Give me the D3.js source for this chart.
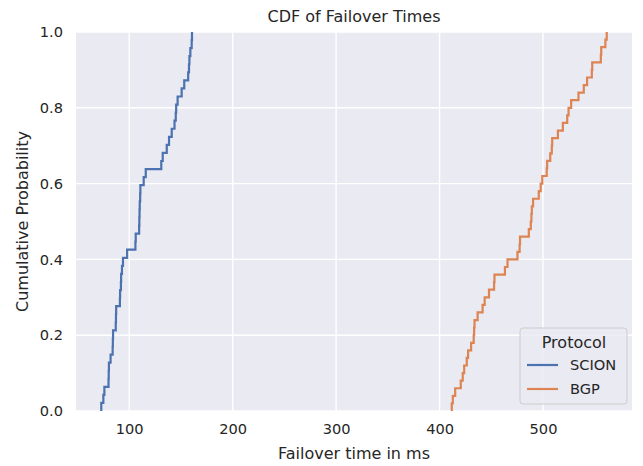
<!DOCTYPE html>
<html>
<head>
<meta charset="utf-8">
<script src="https://cdn.jsdelivr.net/npm/d3@7"></script>
<style>
  body { margin: 0; background: #fff; }
  svg text { font-family: "DejaVu Sans", sans-serif; fill: #262626; }
</style>
</head>
<body>
<svg id="chart" width="643" height="466"></svg>
<script>
// failover samples in ms
const scionTimes = [73, 75, 76, 80, 80.2, 80.4, 82, 84, 84.2, 84.4, 87, 87.2, 87.4,
  91, 91.2, 92, 92.2, 93, 94, 98, 106, 106.3, 109.6, 109.8, 110, 110.2, 110.6, 110.8,
  114, 116, 131, 132.4, 136.3, 138.5, 141.1, 143.8, 145, 145.4, 146.8, 150.7, 153.2,
  157, 157.8, 158.2, 159.1, 160.4, 160.7];
const bgpTimes = [411.8, 412.8, 415.1, 420.5, 422.4, 423.8, 426.3, 427.6, 430.5,
  433.0, 433.4, 433.8, 436.8, 441.6, 443.6, 447.8, 452.7, 453.1, 463.2, 465.7, 475.3,
  477.4, 477.8, 486.3, 488.2, 488.8, 489.2, 490.4, 495.9, 497.8, 499.3, 503.6, 504.0,
  507.0, 508.5, 508.9, 514.4, 519.2, 523.4, 524.7, 527.2, 534.3, 539.4, 542.6,
  547.2, 547.6, 555.9, 556.3, 560.3, 561.6];

const protocols = ["SCION", "BGP"];
const colors = ["#4C72B0", "#DD8452"];
const xTicks = [100, 200, 300, 400, 500];
const yTicks = [0, 0.2, 0.4, 0.6, 0.8, 1.0];

const margin = { top: 32, right: 11, bottom: 55, left: 76 };
const width = 643 - margin.left - margin.right;
const height = 466 - margin.top - margin.bottom;

const svg = d3.select("#chart");
const g = svg.append("g").attr("transform", `translate(${margin.left},${margin.top})`);

const all = scionTimes.concat(bgpTimes);
const lo = d3.min(all), hi = d3.max(all), pad = (hi - lo) * 0.05;
const x = d3.scaleLinear().domain([lo - pad, hi + pad]).range([0, width]);
const y = d3.scaleLinear().domain([0, 1]).range([height, 0]);

g.append("rect").attr("width", width).attr("height", height).attr("fill", "#EAEAF2");

// grid
g.selectAll(".xg").data(xTicks).enter().append("line")
  .attr("x1", d => x(d)).attr("x2", d => x(d)).attr("y1", 0).attr("y2", height)
  .attr("stroke", "#fff").attr("stroke-width", 1.4);
g.selectAll(".yg").data(yTicks).enter().append("line")
  .attr("y1", d => y(d)).attr("y2", d => y(d)).attr("x1", 0).attr("x2", width)
  .attr("stroke", "#fff").attr("stroke-width", 1.4);

// axes
const xAxis = g.append("g").attr("transform", `translate(0,${height})`)
  .call(d3.axisBottom(x).tickValues(xTicks).tickSize(0).tickPadding(13).tickFormat(d3.format("d")));
const yAxis = g.append("g")
  .call(d3.axisLeft(y).tickValues(yTicks).tickSize(0).tickPadding(13).tickFormat(d3.format(".1f")));
[xAxis, yAxis].forEach(a => {
  a.select(".domain").remove();
  a.selectAll("text").style("font-size", "14.6px").attr("fill", "#262626");
});

g.append("clipPath").attr("id", "clip").append("rect")
  .attr("width", width).attr("height", height);

// ecdf steps
const line = d3.line().x(d => x(d[0])).y(d => y(d[1])).curve(d3.curveStepAfter);
[scionTimes, bgpTimes].forEach((vals, k) => {
  const s = vals.slice().sort(d3.ascending);
  const pts = [[s[0], 0]].concat(s.map((v, i) => [v, (i + 1) / s.length]));
  g.append("path").datum(pts)
    .attr("clip-path", "url(#clip)")
    .attr("fill", "none").attr("stroke", colors[k]).attr("stroke-width", 2.2)
    .attr("d", line);
});

// labels
svg.append("text").attr("x", margin.left + width / 2).attr("y", 22)
  .attr("text-anchor", "middle").style("font-size", "16px").text("CDF of Failover Times");
svg.append("text").attr("x", margin.left + width / 2).attr("y", 459)
  .attr("text-anchor", "middle").style("font-size", "16px").text("Failover time in ms");
svg.append("text").attr("transform", `translate(28,${margin.top + height / 2}) rotate(-90)`)
  .attr("text-anchor", "middle").style("font-size", "16px").text("Cumulative Probability");

// legend
const lg = svg.append("g").attr("transform", "translate(520,328)");
lg.append("rect").attr("width", 107).attr("height", 76).attr("rx", 3)
  .attr("fill", "#EAEAF2").attr("fill-opacity", 0.8).attr("stroke", "#cccccc");
lg.append("text").attr("x", 54).attr("y", 20).attr("text-anchor", "middle")
  .style("font-size", "16px").text("Protocol");
protocols.forEach((p, i) => {
  const yy = 37 + i * 24;
  lg.append("line").attr("x1", 7).attr("x2", 38).attr("y1", yy).attr("y2", yy)
    .attr("stroke", colors[i]).attr("stroke-width", 2.2);
  lg.append("text").attr("x", 50).attr("y", yy + 5).style("font-size", "14.6px").text(p);
});
</script>
</body>
</html>
